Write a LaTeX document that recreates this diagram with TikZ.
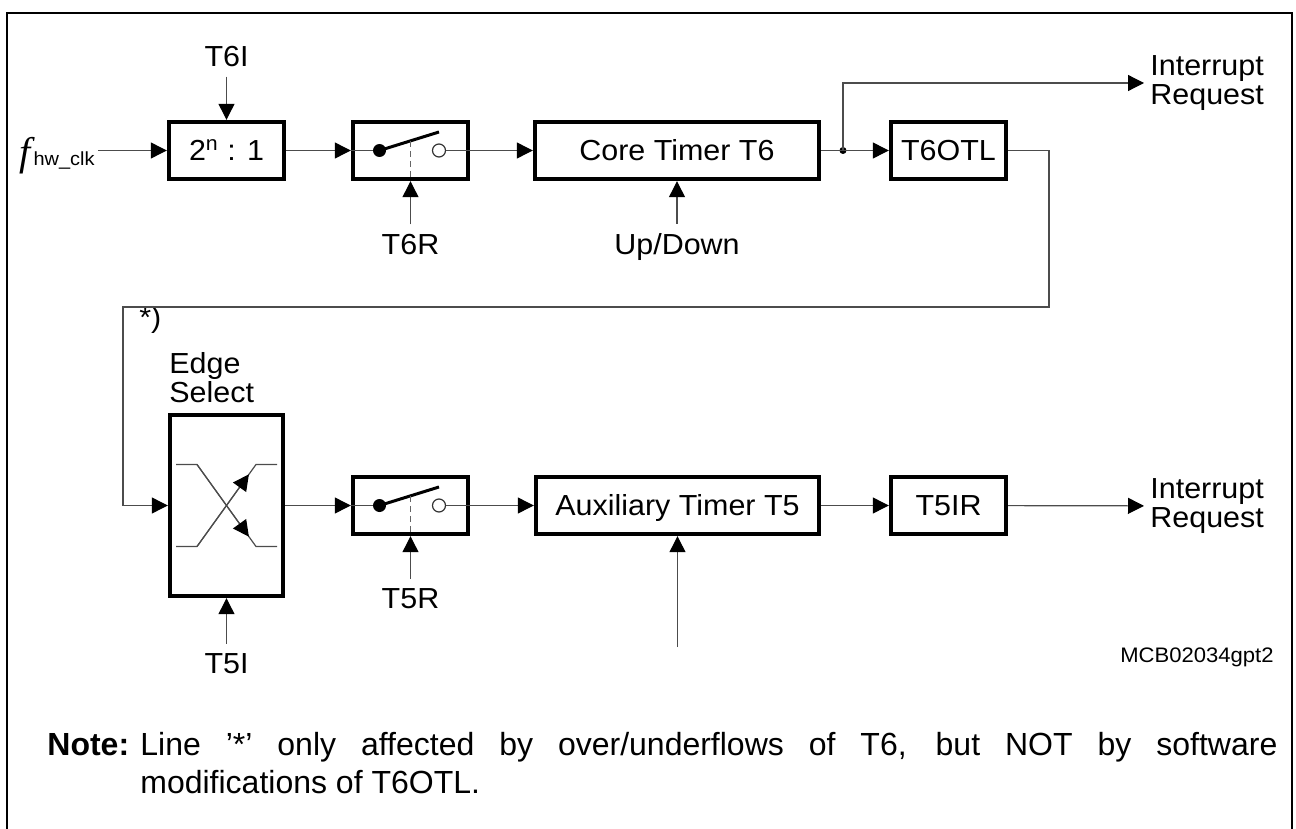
\documentclass[tikz,border=0pt]{standalone}
\usepackage{fontspec}
\setmainfont{Liberation Sans}
\newfontfamily\labfont[FakeStretch=1.05]{Liberation Sans}
\newfontfamily\seriffont{Liberation Serif}
\usetikzlibrary{arrows.meta}
\newcommand\lblf{\labfont\fontsize{14.5}{14.5}\selectfont}
\begin{document}
\begin{tikzpicture}[x=0.5pt,y=-0.5pt,
  conn/.style={draw=black!70, line width=0.6pt},
  arr/.style={conn, -{Triangle[length=8pt,width=8pt,color=black]}},
  blk/.style={draw=black, line width=2.2pt, inner sep=0pt, text height=10.4pt, text depth=0pt,
    minimum width=57.5pt, minimum height=28.5pt, font=\lblf},
  lab/.style={inner sep=1.5pt, font=\lblf},
  jdot/.style={circle, fill=black, inner sep=0pt, minimum size=#1},
  ocirc/.style={circle, draw=black!80, line width=0.6pt, fill=white, inner sep=0pt, minimum size=6.5pt},
  lever/.style={draw=black, line width=1.5pt},
  dashln/.style={draw=black!60, line width=0.6pt, dash pattern=on 3pt off 2pt},
  frame/.style={draw=black, line width=1.2pt}]
\useasboundingbox (0,0) rectangle (1296,829);
\draw[frame] (7,829) -- (7,13) -- (1292,13) -- (1292,829);

% ---- blocks ----
\node[blk] (div) at (226.5,150.5) {2\textsuperscript{n} : 1};
\node[blk] (sw1) at (410.5,150.5) {};
\node[blk, minimum width=142pt] (core) at (677,150.5) {Core Timer T6};
\node[blk] (otl) at (948.5,150.5) {T6OTL};
\node[blk, minimum width=56.5pt, minimum height=90.5pt] (edge) at (226.5,505.5) {};
\node[blk] (sw2) at (410.5,505.5) {};
\node[blk, minimum width=141.5pt] (aux) at (677.5,505.5) {Auxiliary Timer T5};
\node[blk] (t5ir) at (948.5,505.5) {T5IR};

% ---- switches ----
\begin{scope}[shift={(sw1.center)}]
  \node[jdot=6.5pt] (sw1i) at (-31,0) {};
  \node[ocirc] (sw1o) at (28.5,0) {};
  \coordinate (sw1l) at (28.5,-18.5);
  \draw[lever] (sw1i.center) -- (sw1l);
  \draw[dashln] (0,-9.6) -- (0,28.5);
\end{scope}
\begin{scope}[shift={(sw2.center)}]
  \node[jdot=6.5pt] (sw2i) at (-31,0) {};
  \node[ocirc] (sw2o) at (28.5,0) {};
  \coordinate (sw2l) at (28.5,-18.5);
  \draw[lever] (sw2i.center) -- (sw2l);
  \draw[dashln] (0,-9.6) -- (0,28.5);
\end{scope}

% ---- edge select symbol ----
\begin{scope}[shift={(edge.center)}]
  \draw[conn] (-50.5,-41) -- (-29.5,-41) -- (29.5,41) -- (50.5,41);
  \draw[conn] (-50.5,41) -- (-29.5,41) -- (29.5,-41) -- (50.5,-41);
  \draw[arr] (-29.5,-41) -- (22.4,31.2);
  \draw[arr] (-29.5,41) -- (22.4,-31.2);
\end{scope}

% ---- labels ----
\node[anchor=base west, inner sep=1.5pt] (fin) at (16,166)
  {{\seriffont\itshape\fontsize{20}{20}\selectfont f}\hspace{1.5pt}{\labfont\fontsize{9.5}{9.5}\selectfont hw\_clk}};
\node[lab, anchor=base] (t6i) at (226.5,67) {T6I};
\node[lab, anchor=base] (t6r) at (410.5,254) {T6R};
\node[lab, anchor=base] (updn) at (677,254) {Up/Down};
\node[lab, anchor=west, align=left, inner sep=3pt] (irq1) at (1144,83) {Interrupt\\Request};
\node[lab, anchor=base west, inner sep=0pt] (star) at (139,327) {*)};
\node[lab, anchor=base west, inner sep=0pt] (edgel1) at (169,373) {Edge};
\node[lab, anchor=base west, inner sep=0pt] (edgel2) at (169,402) {Select};
\node[lab, anchor=base] (t5r) at (410.5,608) {T5R};
\node[lab, anchor=base] (t5i) at (226.5,673) {T5I};
\node[lab, anchor=west, align=left, inner sep=3pt] (irq2) at (1144,506) {Interrupt\\Request};
\node[anchor=base east, inner sep=0pt, font=\labfont\fontsize{10.5}{10.5}\selectfont] (mcb) at (1274,662) {MCB02034gpt2};

% ---- junction and free ends ----
\node[jdot=3.5pt] (j1) at (843,150.5) {};
\coordinate (c1) at (1049,307);
\coordinate (c2) at (123,307);
\coordinate (auxin) at (677.5,647);

% ---- connectors ----
\draw[arr] (fin.east |- div.west) -- (div.west);
\draw[arr, shorten <=3pt] (t6i.south) -- (div.north);
\draw[arr] (div) -- (sw1);
\draw[conn] (sw1.west) -- (sw1i);
\draw[arr] (sw1o) -- (core);
\draw[arr, shorten <=3pt] (t6r.north) -- (sw1.south);
\draw[arr, shorten <=3pt] (updn.north) -- (core.south);
\draw[conn] (core) -- (j1.center);
\draw[arr] (j1.center) -- (otl);
\draw[arr] (j1.center) |- (irq1.west);
\draw[arr] (otl.east) -| (c1) -- (c2) |- (edge.west);

\draw[arr] (edge) -- (sw2);
\draw[conn] (sw2.west) -- (sw2i);
\draw[arr] (sw2o) -- (aux);
\draw[arr, shorten <=3pt] (t5r.north) -- (sw2.south);
\draw[arr, shorten <=3pt] (t5i.north) -- (edge.south);
\draw[arr] (auxin) -- (aux.south);
\draw[arr] (aux) -- (t5ir);
\draw[arr] (t5ir) -- (irq2);

% ---- note ----
\node[anchor=north west, inner sep=0pt, text width=615pt, align=justify,
      font=\fontsize{16}{19}\selectfont] (note) at (47,731.5)
  {\hyphenpenalty=10000\exhyphenpenalty=10000\hangindent=46.5pt\hangafter=1\noindent
   \makebox[46.5pt][l]{\textbf{Note:}}Line ’*’ only affected by over/underflows of T6, but NOT by software\linebreak
   modifications of T6OTL.\par};
\end{tikzpicture}
\end{document}
